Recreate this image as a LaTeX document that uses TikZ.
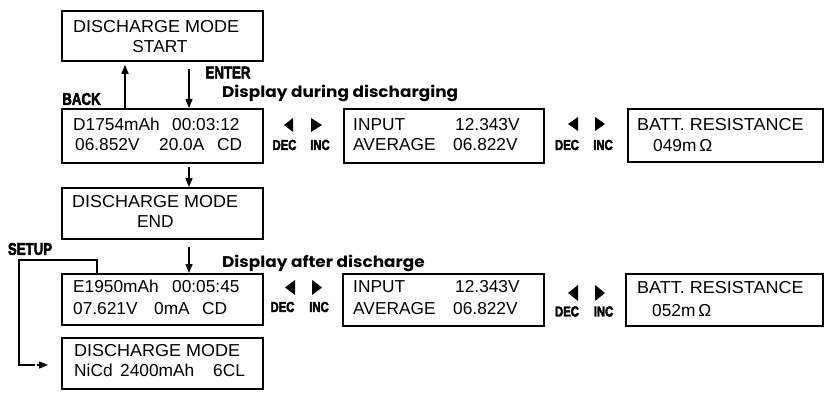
\documentclass[tikz,border=0pt]{standalone}
\usepackage{fontspec}
\setmainfont{Liberation Sans}
\newfontfamily\dispfont{Poppins}
\newfontfamily\impfont{Liberation Sans}[BoldFeatures={FakeBold=3}]
\usetikzlibrary{arrows.meta}
\tikzset{
  box/.style={draw, line width=1.8pt, anchor=north west, inner sep=0pt},
  txt/.style={anchor=base west, inner sep=0pt, font=\fontsize{17.3}{20}\selectfont},
  key/.style={inner sep=0pt, font=\fontsize{17}{17}\selectfont\impfont\bfseries},
  smallkey/.style={inner sep=0pt, font=\fontsize{14.5}{14.5}\selectfont\impfont\bfseries},
  disp/.style={anchor=base west, inner sep=0pt, font=\fontsize{15.5}{16}\selectfont\dispfont\bfseries},
  arr/.style={line width=1.4pt, -{Triangle[length=9pt,width=7pt]}},
  tri/.style={fill=black, draw=none},
}
\newcommand{\kk}[1]{\scalebox{0.78}[1]{#1}}
\newcommand{\wide}[1]{\scalebox{1.04}[1]{#1}}
\newcommand{\dd}[1]{\scalebox{1.09}[1]{#1}}
\begin{document}
\begin{tikzpicture}[x=1pt,y=-1pt]
\useasboundingbox (0,0) rectangle (824,393);
% boxes
\node[box, minimum width=201pt, minimum height=50pt] (start) at (61,10) {};
\node[box, minimum width=201pt, minimum height=54pt] (disp) at (61,108) {};
\node[box, minimum width=201pt, minimum height=51pt] (endm) at (61,187) {};
\node[box, minimum width=201pt, minimum height=51pt] (after) at (61,273) {};
\node[box, minimum width=201pt, minimum height=51pt] (setupbox) at (61,337) {};
\node[box, minimum width=200pt, minimum height=54pt] (in1) at (343,108) {};
\node[box, minimum width=195pt, minimum height=53pt] (res1) at (627,108) {};
\node[box, minimum width=201pt, minimum height=52pt] (in2) at (342,273) {};
\node[box, minimum width=197pt, minimum height=52pt] (res2) at (625,273) {};
% texts
\node[txt] (s1) at (73,33) {\wide{DISCHARGE MODE}};
\node[txt, anchor=base] (s2) at (160,53) {START};
\node[txt] (d1) at (73,131) {D1754mAh};
\node[txt] (d2) at (172,131) {00:03:12};
\node[txt] (d3) at (75,150) {06.852V};
\node[txt] (d4) at (159,150) {20.0A};
\node[txt] (d5) at (217,150) {CD};
\node[txt] (e1) at (72,207) {\wide{DISCHARGE MODE}};
\node[txt] (e2) at (137,227) {END};
\node[txt] (a1) at (73,292) {E1950mAh};
\node[txt] (a2) at (172,292) {00:05:45};
\node[txt] (a3) at (73,314) {07.621V};
\node[txt] (a4) at (154,314) {0mA};
\node[txt] (a5) at (202,314) {CD};
\node[txt] (u1) at (74,356) {\wide{DISCHARGE MODE}};
\node[txt] (u2) at (74,376) {NiCd};
\node[txt] (u3) at (120,376) {2400mAh};
\node[txt] (u4) at (213,376) {6CL};
\node[txt] (i1) at (353,131) {INPUT};
\node[txt] (i2) at (455,131) {12.343V};
\node[txt] (i3) at (353,150) {AVERAGE};
\node[txt] (i4) at (453,150) {06.822V};
\node[txt] (r1) at (637,131) {\wide{BATT. RESISTANCE}};
\node[txt] (r2) at (653,151) {049m\,Ω};
\node[txt] (j1) at (353,292) {INPUT};
\node[txt] (j2) at (455,292) {12.343V};
\node[txt] (j3) at (353,314) {AVERAGE};
\node[txt] (j4) at (453,314) {06.822V};
\node[txt] (q1) at (637,293) {\wide{BATT. RESISTANCE}};
\node[txt] (q2) at (652,316) {052m\,Ω};
% headings
\node[disp] (hd1) at (222,98) {\dd{Display during discharging}};
\node[disp] (hd2) at (222,267) {\dd{Display after discharge}};
% key labels
\node[key] (kback) at (81.5,99) {\kk{BACK}};
\node[key] (kenter) at (228,72.5) {\kk{ENTER}};
\node[key] (ksetup) at (30,249) {\kk{SETUP}};
\node[smallkey] (dec1) at (284.5,145) {\kk{DEC}};
\node[smallkey] (inc1) at (320,145) {\kk{INC}};
\node[smallkey] (dec2) at (567,145) {\kk{DEC}};
\node[smallkey] (inc2) at (603,145) {\kk{INC}};
\node[smallkey] (dec3) at (282.5,307) {\kk{DEC}};
\node[smallkey] (inc3) at (319,307) {\kk{INC}};
\node[smallkey] (dec4) at (567,311.5) {\kk{DEC}};
\node[smallkey] (inc4) at (603.5,311.5) {\kk{INC}};
% triangles
\fill[tri] (284,125) -- (293,118) -- (293,132) -- cycle;
\fill[tri] (322,125) -- (311,118) -- (311,132) -- cycle;
\fill[tri] (568,124) -- (578,117) -- (578,131) -- cycle;
\fill[tri] (605,124) -- (595,117) -- (595,131) -- cycle;
\fill[tri] (285,287.5) -- (295,280) -- (295,295) -- cycle;
\fill[tri] (322,287.5) -- (312,280) -- (312,295) -- cycle;
\fill[tri] (568,293) -- (578,285) -- (578,301) -- cycle;
\fill[tri] (605,293) -- (595,285) -- (595,301) -- cycle;
% connectors
\draw[arr, shorten >=3pt] ([xshift=64pt]disp.north west) -- ([xshift=64pt]start.south west);
\draw[arr, shorten <=7pt] ([xshift=128pt]start.south west) -- ([xshift=128pt]disp.north west);
\draw[arr, shorten <=3pt] ([xshift=128pt]disp.south west) -- ([xshift=128pt]endm.north west);
\draw[arr, shorten <=7pt] ([xshift=128pt]endm.south west) -- ([xshift=128pt]after.north west);
\coordinate (c1) at (19,260);
\coordinate (c2) at (19,365);
\coordinate (c3) at (31,365);
\coordinate (c4) at (48,365);
\draw[line width=1.4pt] ([xshift=36pt]after.north west) |- (c1) -- (c2) -- (c3);
\draw[line width=1.4pt, dash pattern=on 4pt off 2pt, -{Triangle[length=9pt,width=7pt]}] (c3) -- (c4);
\end{tikzpicture}
\end{document}
